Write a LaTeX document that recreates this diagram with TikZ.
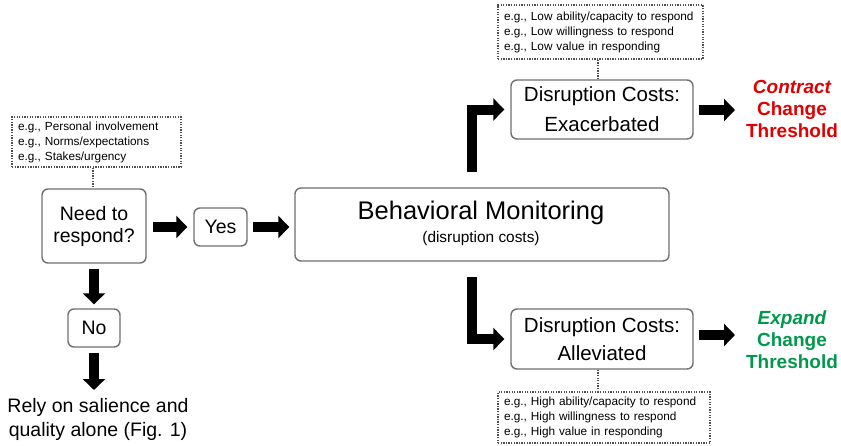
\documentclass[tikz,border=0pt]{standalone}
\usepackage{fontspec}
\setmainfont{Liberation Sans}
\usetikzlibrary{arrows.meta,calc}
\definecolor{boxgray}{HTML}{707070}
\definecolor{dotgray}{HTML}{505050}
\definecolor{cred}{HTML}{E00000}
\definecolor{cgreen}{HTML}{00994C}
\tikzset{
  rbox/.style={draw=boxgray, line width=1.4pt, rounded corners=6pt, fill=white, inner sep=0pt, align=center},
  dbox/.style={draw=dotgray, line width=1.2pt, dash pattern=on 1.3pt off 1.3pt, inner xsep=6pt, inner ysep=0pt, align=left,
     font=\fontsize{11.8}{15}\selectfont},
  dotline/.style={draw=dotgray, line width=1.2pt, dash pattern=on 1.3pt off 1.3pt},
  bigarrow/.style={line width=10pt, -{Triangle[length=11pt,width=22pt]}},
  elbow/.style={line width=10pt, line join=miter, -{Triangle[length=11pt,width=22pt]}},
  bigtxt/.style={font=\fontsize{19.5}{22}\selectfont},
  dctxt/.style={font=\fontsize{20.5}{30}\selectfont},
  thr/.style={font=\fontsize{19}{22}\selectfont\bfseries, align=center, inner sep=0pt}
}
\begin{document}
\begin{tikzpicture}[x=1pt,y=-1pt]
\useasboundingbox (0,0) rectangle (841,445);
% left part
\node[dbox, minimum width=169pt, minimum height=50pt, text width=157pt] (tl) at (96.5,142)
  {e.g., Personal involvement\\e.g., Norms/expectations\\e.g., Stakes/urgency};
\node[rbox, bigtxt, minimum width=104pt, minimum height=74pt] (need) at (94,226) {Need to\\respond?};
\node[rbox, bigtxt, minimum width=53pt, minimum height=38pt] (yes) at (220.5,227) {Yes};
\node[rbox, bigtxt, minimum width=52pt, minimum height=38pt] (no) at (94,328) {No};
\node[font=\fontsize{19.5}{24}\selectfont, align=center, inner sep=0pt, anchor=north] (rely) at (98,398) {Rely on salience and\\quality alone (Fig. 1)};
% behavioral monitoring
\node[rbox, minimum width=374pt, minimum height=73pt] (bm) at (482,224.5) {};
\node[font=\fontsize{25.5}{28}\selectfont, inner sep=0pt] (bmt) at (481,213) {Behavioral Monitoring};
\node[font=\fontsize{15.4}{17}\selectfont, inner sep=0pt] (bms) at (481,239) {(disruption costs)};
% right boxes
\node[rbox, dctxt, minimum width=182pt, minimum height=59pt] (exa) at (602,109.5) {Disruption Costs:\\Exacerbated};
\node[rbox, dctxt, minimum width=182pt, minimum height=60pt] (all) at (602,339) {Disruption Costs:\\[-2pt]Alleviated};
\node[dbox, minimum width=205pt, minimum height=54pt, text width=193pt] (tr) at (600.5,32)
  {e.g., Low ability/capacity to respond\\e.g., Low willingness to respond\\e.g., Low value in responding};
\node[dbox, minimum width=212pt, minimum height=51pt, text width=200pt] (br) at (604,417.5)
  {e.g., High ability/capacity to respond\\e.g., High willingness to respond\\e.g., High value in responding};
\node[thr, text=cred] (con) at (792,109) {\itshape Contract\\Change\\Threshold};
\node[thr, text=cgreen] (exp) at (792,340) {\itshape Expand\\Change\\Threshold};
% dotted connectors
\draw[dotline] (tl.south -| 93,0) -- (need.north -| 93,0);
\draw[dotline] (exa.north -| 598,0) -- (tr.south -| 598,0);
\draw[dotline] (all.south -| 598,0) -- (br.north -| 598,0);
% arrows
\draw[bigarrow, shorten <=6pt, shorten >=6pt] (need.east |- yes.west) -- (yes.west);
\draw[bigarrow, shorten <=5pt, shorten >=5pt] (yes.east) -- (yes.east -| bm.west);
\draw[bigarrow, shorten <=5pt, shorten >=4pt] (need.south) -- (no.north);
\draw[bigarrow, shorten <=5pt, shorten >=8pt] (no.south) -- (rely.north -| no.south);
\coordinate (ca) at (735,110);
\coordinate (ea) at (735,335);
\draw[bigarrow, shorten <=5pt] (exa.east |- ca) -- (ca);
\draw[bigarrow, shorten <=5pt] (all.east |- ea) -- (ea);
\coordinate (u0) at (472,172);
\coordinate (d0) at (472,277);
\draw[elbow, shorten >=6pt] (u0) |- (exa.west);
\draw[elbow, shorten >=6pt] (d0) |- (all.west);
\end{tikzpicture}
\end{document}
